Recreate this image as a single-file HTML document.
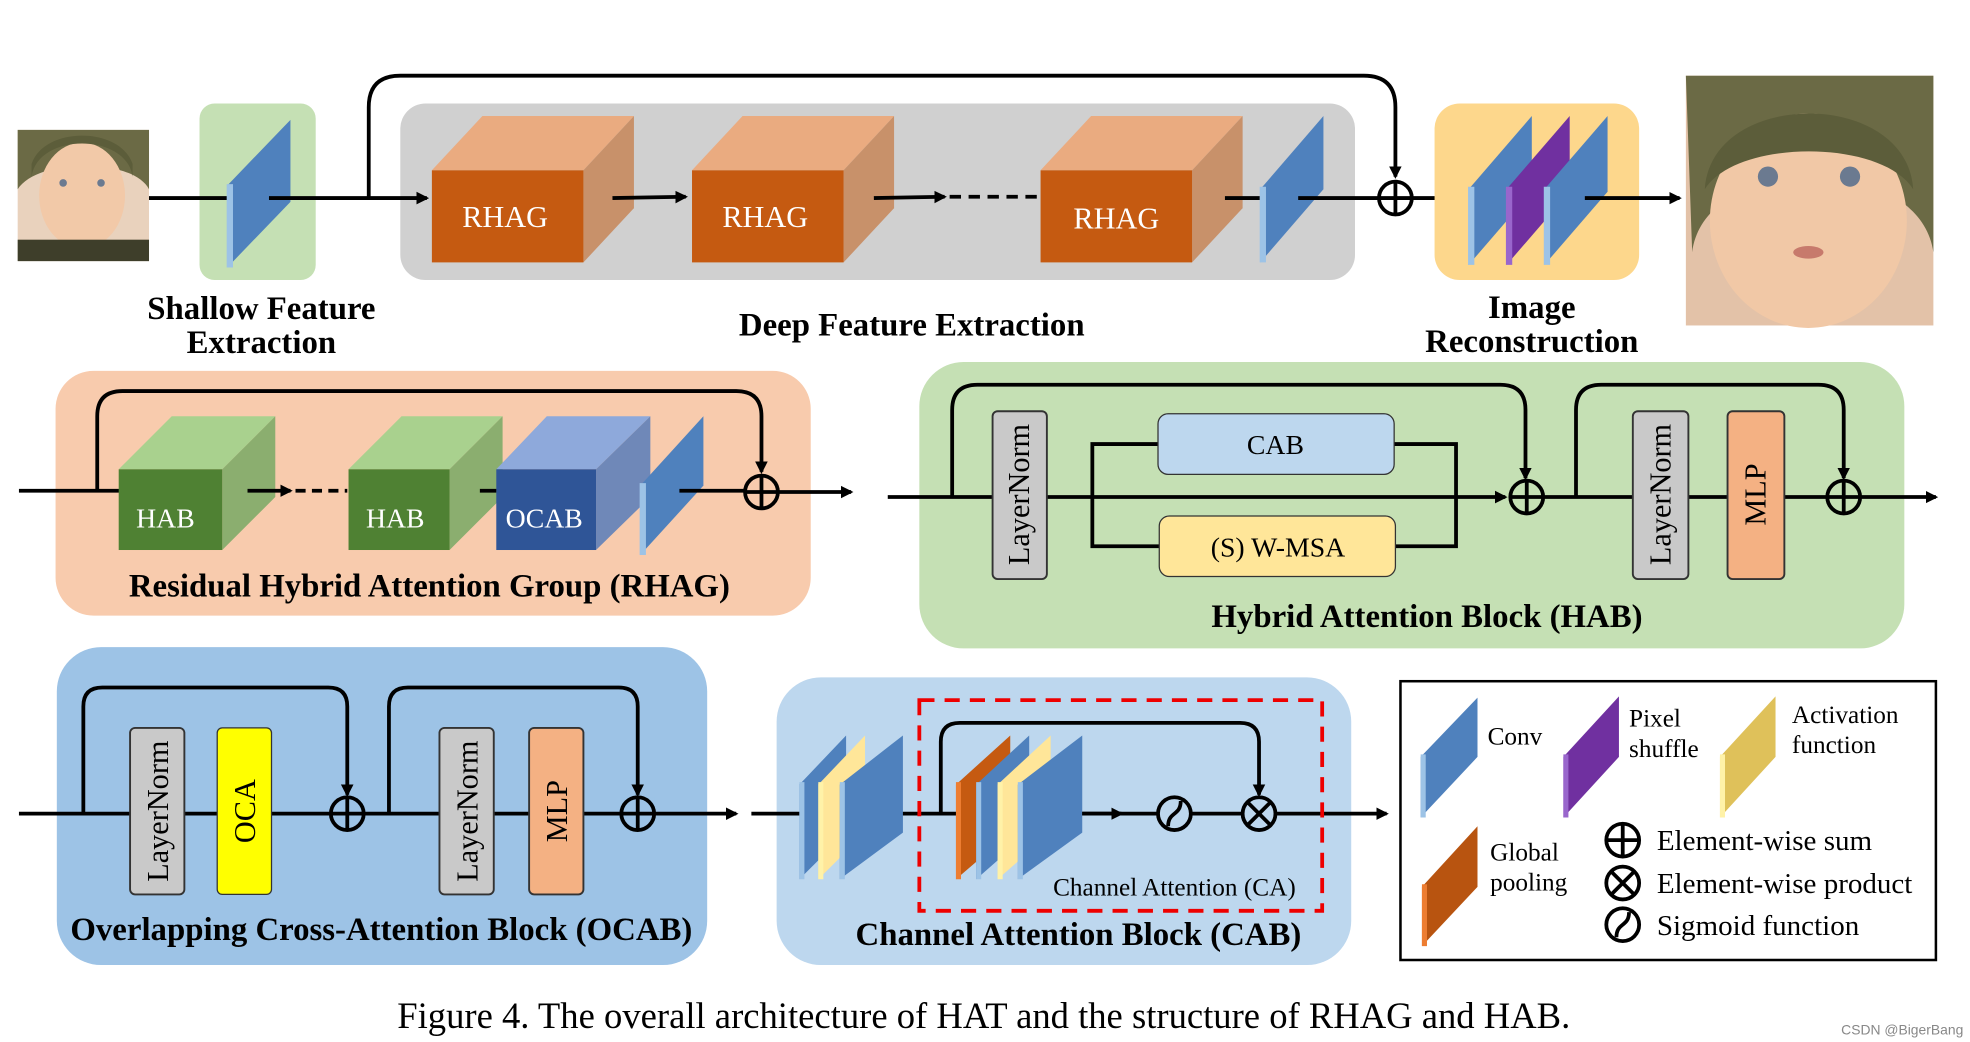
<!DOCTYPE html>
<html><head><meta charset="utf-8"><style>
html,body{margin:0;padding:0;background:#fff;width:1970px;height:1042px;overflow:hidden}
svg{display:block}
text{font-family:"Liberation Serif",serif}
.lb{font-size:26px;font-weight:bold;text-anchor:middle;fill:#000}
.w{fill:#fff;font-size:24px;text-anchor:middle}
.ln{stroke:#000;stroke-width:3;fill:none}
</style></head><body>
<svg width="1970" height="1042" viewBox="0 0 1560 826" preserveAspectRatio="none" xmlns="http://www.w3.org/2000/svg">
<defs>
<marker id="a" markerWidth="10" markerHeight="10" refX="8" refY="5" orient="auto" markerUnits="userSpaceOnUse"><path d="M0,0 L10,5 L0,10 z" fill="#000" transform="scale(1.4) translate(-3,-1.4)"/></marker>
<g id="plus"><circle r="13" fill="none" stroke="#000" stroke-width="3"/><line x1="-13" y1="0" x2="13" y2="0" stroke="#000" stroke-width="3"/><line x1="0" y1="-13" x2="0" y2="13" stroke="#000" stroke-width="3"/></g>
<g id="times"><circle r="13" fill="none" stroke="#000" stroke-width="3"/><line x1="-9" y1="-9" x2="9" y2="9" stroke="#000" stroke-width="3"/><line x1="-9" y1="9" x2="9" y2="-9" stroke="#000" stroke-width="3"/></g>
<g id="sig"><circle r="13" fill="none" stroke="#000" stroke-width="3"/><path d="M-5,10 C-5,-2 5,2 5,-10" stroke="#000" stroke-width="3" fill="none"/></g>
</defs>

<!-- small baby -->
<rect x="14" y="103" width="104" height="104" fill="#e9d2bd"/>
<path d="M14,103 H118 V150 C105,125 30,125 14,150 Z" fill="#6b6a45"/>
<ellipse cx="65" cy="155" rx="34" ry="42" fill="#f2c9a8"/>
<path d="M25,140 C30,105 100,105 105,140 L105,130 C95,100 35,100 25,130Z" fill="#5c5d3a"/>
<circle cx="50" cy="145" r="3" fill="#6b7a90"/><circle cx="80" cy="145" r="3" fill="#6b7a90"/>
<rect x="14" y="190" width="104" height="17" fill="#3e3e2a"/>

<!-- shallow -->
<rect x="158" y="82" width="92" height="140" rx="12" fill="#c5e0b4"/>
<line class="ln" x1="118" y1="157" x2="182" y2="157"/>
<polygon points="180,147 230,95 230,160 180,212" fill="#4f81bd"/><line x1="182" y1="146" x2="182" y2="212" stroke="#9dc3e6" stroke-width="5"/>

<!-- gray -->
<rect x="317" y="82" width="756" height="140" rx="20" fill="#d0d0d0"/>
<path class="ln" d="M292,157 V85 Q292,60 317,60 H1080 Q1105,60 1105,85 V140" marker-end="url(#a)"/>
<line class="ln" x1="213" y1="157" x2="338" y2="157" marker-end="url(#a)"/>
<g>
<polygon points="342,135 382,92 502,92 462,135" fill="#eaab80"/><polygon points="462,135 502,92 502,165 462,208" fill="#c8916a"/><rect x="342" y="135" width="120" height="73" fill="#c55a11"/><text class="w" x="400" y="180">RHAG</text>
<polygon points="548,135 588,92 708,92 668,135" fill="#eaab80"/><polygon points="668,135 708,92 708,165 668,208" fill="#c8916a"/><rect x="548" y="135" width="120" height="73" fill="#c55a11"/><text class="w" x="606" y="180">RHAG</text>
<polygon points="824,135 864,92 984,92 944,135" fill="#eaab80"/><polygon points="944,135 984,92 984,165 944,208" fill="#c8916a"/><rect x="824" y="135" width="120" height="73" fill="#c55a11"/><text class="w" x="884" y="181">RHAG</text>
</g>
<line class="ln" x1="485" y1="157" x2="543" y2="156" marker-end="url(#a)"/>
<line class="ln" x1="692" y1="157" x2="748" y2="156" marker-end="url(#a)"/>
<line class="ln" x1="752" y1="156" x2="822" y2="156" stroke-dasharray="9,6"/>
<line class="ln" x1="970" y1="157" x2="1000" y2="157"/>
<polygon points="998,150 1048,92 1048,150 998,208" fill="#4f81bd"/><line x1="1000" y1="148" x2="1000" y2="208" stroke="#9dc3e6" stroke-width="5"/>
<line class="ln" x1="1028" y1="157" x2="1092" y2="157"/>
<use href="#plus" x="1105" y="157"/>
<line class="ln" x1="1118" y1="157" x2="1160" y2="157" marker-end="url(#a)"/>

<!-- recon -->
<rect x="1136" y="82" width="162" height="140" rx="20" fill="#fdd78c"/>
<polygon points="1163,150 1213,92 1213,152 1163,210" fill="#4f81bd"/><line x1="1165" y1="148" x2="1165" y2="210" stroke="#9dc3e6" stroke-width="5"/>
<polygon points="1193,150 1243,92 1243,152 1193,210" fill="#7030a0"/><line x1="1195" y1="148" x2="1195" y2="210" stroke="#9966cc" stroke-width="5"/>
<polygon points="1223,150 1273,92 1273,152 1223,210" fill="#4f81bd"/><line x1="1225" y1="148" x2="1225" y2="210" stroke="#9dc3e6" stroke-width="5"/>
<line class="ln" x1="1255" y1="157" x2="1330" y2="157" marker-end="url(#a)"/>

<!-- big baby -->
<rect x="1335" y="60" width="196" height="198" fill="#e3c2a8"/>
<path d="M1335,60 H1531 V200 C1520,120 1350,120 1340,200 Z" fill="#6b6a45"/>
<ellipse cx="1432" cy="175" rx="78" ry="85" fill="#f1c8a6"/>
<path d="M1350,150 C1355,70 1510,70 1515,150 C1490,110 1375,110 1350,150Z" fill="#5c5d3a"/>
<circle cx="1400" cy="140" r="8" fill="#6b7a90"/><circle cx="1465" cy="140" r="8" fill="#6b7a90"/>
<ellipse cx="1432" cy="200" rx="12" ry="5" fill="#c77a6c"/>

<text class="lb" x="207" y="253">Shallow Feature</text>
<text class="lb" x="207" y="280">Extraction</text>
<text class="lb" x="722" y="266">Deep Feature Extraction</text>
<text class="lb" x="1213" y="252">Image</text>
<text class="lb" x="1213" y="279">Reconstruction</text>

<!-- RHAG row -->
<rect x="44" y="294" width="598" height="194" rx="30" fill="#f8cbad"/>
<line class="ln" x1="15" y1="389" x2="96" y2="389"/>
<path class="ln" d="M77,389 V330 Q77,310 97,310 H583 Q603,310 603,330 V374" marker-end="url(#a)"/>
<polygon points="94,372 136,330 218,330 176,372" fill="#a9d18e"/><polygon points="176,372 218,330 218,394 176,436" fill="#8bae6f"/><rect x="94" y="372" width="82" height="64" fill="#4f8133"/><text class="w" x="131" y="418" style="font-size:22px">HAB</text>
<polygon points="276,372 318,330 398,330 356,372" fill="#a9d18e"/><polygon points="356,372 398,330 398,394 356,436" fill="#8bae6f"/><rect x="276" y="372" width="80" height="64" fill="#4f8133"/><text class="w" x="313" y="418" style="font-size:22px">HAB</text>
<polygon points="393,372 433,330 515,330 472,372" fill="#8ea9db"/><polygon points="472,372 515,330 515,394 472,436" fill="#6f88b8"/><rect x="393" y="372" width="79" height="64" fill="#2f5597"/><text class="w" x="431" y="418" style="font-size:22px">OCAB</text>
<line class="ln" x1="196" y1="389" x2="230" y2="389" marker-end="url(#a)"/>
<line class="ln" x1="234" y1="389" x2="275" y2="389" stroke-dasharray="8,5"/>
<line class="ln" x1="380" y1="389" x2="393" y2="389"/>
<polygon points="507,385 557,330 557,385 507,440" fill="#4f81bd"/><line x1="509" y1="383" x2="509" y2="440" stroke="#9dc3e6" stroke-width="5"/>
<line class="ln" x1="538" y1="389" x2="590" y2="389"/>
<use href="#plus" x="603" y="390"/>
<line class="ln" x1="616" y1="390" x2="674" y2="390" marker-end="url(#a)"/>
<text class="lb" x="340" y="473">Residual Hybrid Attention Group (RHAG)</text>

<!-- HAB -->
<rect x="728" y="287" width="780" height="227" rx="35" fill="#c5e0b4"/>
<line class="ln" x1="703" y1="394" x2="1192" y2="394" marker-end="url(#a)"/>
<path class="ln" d="M754,394 V325 Q754,305 774,305 H1188 Q1208,305 1208,325 V379" marker-end="url(#a)"/>
<rect x="786" y="326" width="43" height="133" rx="4" fill="#c9c9c9" stroke="#333" stroke-width="1.5"/>
<text x="815" y="392" transform="rotate(-90 815 392)" style="font-size:24px;text-anchor:middle">LayerNorm</text>
<polyline class="ln" points="917,352 865,352 865,433 918,433"/>
<polyline class="ln" points="1104,352 1153,352 1153,433 1105,433"/>
<rect x="917" y="328" width="187" height="48" rx="8" fill="#bdd7ee" stroke="#333" stroke-width="1"/>
<text x="1010" y="360" style="font-size:22px;text-anchor:middle">CAB</text>
<rect x="918" y="409" width="187" height="48" rx="8" fill="#ffe699" stroke="#333" stroke-width="1"/>
<text x="1012" y="441" style="font-size:22px;text-anchor:middle">(S) W-MSA</text>
<use href="#plus" x="1209" y="394"/>
<line class="ln" x1="1222" y1="394" x2="1447" y2="394"/>
<path class="ln" d="M1248,394 V325 Q1248,305 1268,305 H1440 Q1460,305 1460,325 V379" marker-end="url(#a)"/>
<rect x="1293" y="326" width="44" height="133" rx="4" fill="#c9c9c9" stroke="#333" stroke-width="1.5"/>
<text x="1323" y="392" transform="rotate(-90 1323 392)" style="font-size:24px;text-anchor:middle">LayerNorm</text>
<rect x="1368" y="326" width="45" height="133" rx="4" fill="#f4b183" stroke="#333" stroke-width="1.5"/>
<text x="1398" y="392" transform="rotate(-90 1398 392)" style="font-size:24px;text-anchor:middle">MLP</text>
<use href="#plus" x="1460" y="394"/>
<line class="ln" x1="1473" y1="394" x2="1533" y2="394" marker-end="url(#a)"/>
<text class="lb" x="1130" y="497">Hybrid Attention Block (HAB)</text>

<!-- OCAB -->
<rect x="45" y="513" width="515" height="252" rx="35" fill="#9dc3e6"/>
<line class="ln" x1="15" y1="645" x2="583" y2="645" marker-end="url(#a)"/>
<path class="ln" d="M66,645 V560 Q66,545 81,545 H260 Q275,545 275,560 V630" marker-end="url(#a)"/>
<path class="ln" d="M308,645 V560 Q308,545 323,545 H490 Q505,545 505,560 V630" marker-end="url(#a)"/>
<rect x="103" y="577" width="43" height="132" rx="4" fill="#c9c9c9" stroke="#333" stroke-width="1.5"/>
<text x="133" y="643" transform="rotate(-90 133 643)" style="font-size:24px;text-anchor:middle">LayerNorm</text>
<rect x="172" y="577" width="43" height="132" rx="4" fill="#ffff00" stroke="#333" stroke-width="1"/>
<text x="202" y="643" transform="rotate(-90 202 643)" style="font-size:24px;text-anchor:middle">OCA</text>
<rect x="348" y="577" width="43" height="132" rx="4" fill="#c9c9c9" stroke="#333" stroke-width="1.5"/>
<text x="378" y="643" transform="rotate(-90 378 643)" style="font-size:24px;text-anchor:middle">LayerNorm</text>
<rect x="419" y="577" width="43" height="132" rx="4" fill="#f4b183" stroke="#333" stroke-width="1.5"/>
<text x="449" y="643" transform="rotate(-90 449 643)" style="font-size:24px;text-anchor:middle">MLP</text>
<rect x="262" y="632" width="26" height="26" fill="#9dc3e6"/><use href="#plus" x="275" y="645"/>
<rect x="492" y="632" width="26" height="26" fill="#9dc3e6"/><use href="#plus" x="505" y="645"/>
<text class="lb" x="302" y="745">Overlapping Cross-Attention Block (OCAB)</text>

<!-- CAB -->
<rect x="615" y="537" width="455" height="228" rx="35" fill="#bdd7ee"/>
<line class="ln" x1="595" y1="645" x2="1098" y2="645" marker-end="url(#a)"/>
<polygon points="633,622 670,583 670,660 633,697" fill="#4f81bd"/><line x1="635" y1="620" x2="635" y2="697" stroke="#9dc3e6" stroke-width="4"/>
<polygon points="648,622 685,583 685,660 648,697" fill="#ffe699"/><line x1="650" y1="620" x2="650" y2="697" stroke="#fff2a8" stroke-width="4"/>
<polygon points="665,622 715,583 715,660 665,697" fill="#4f81bd"/><line x1="667" y1="620" x2="667" y2="697" stroke="#9dc3e6" stroke-width="4"/>
<rect x="728" y="555" width="319" height="167" fill="none" stroke="#e00" stroke-width="3" stroke-dasharray="12,8"/>
<path class="ln" d="M745,645 V588 Q745,573 760,573 H982 Q997,573 997,588 V630" marker-end="url(#a)"/>
<polygon points="757,622 800,583 800,660 757,697" fill="#c55a11"/><line x1="759" y1="620" x2="759" y2="697" stroke="#ed7d31" stroke-width="4"/>
<polygon points="773,622 815,583 815,660 773,697" fill="#4f81bd"/><line x1="775" y1="620" x2="775" y2="697" stroke="#9dc3e6" stroke-width="4"/>
<polygon points="790,622 832,583 832,660 790,697" fill="#ffe699"/><line x1="792" y1="620" x2="792" y2="697" stroke="#fff2a8" stroke-width="4"/>
<polygon points="806,622 857,583 857,660 806,697" fill="#4f81bd"/><line x1="808" y1="620" x2="808" y2="697" stroke="#9dc3e6" stroke-width="4"/>
<line class="ln" x1="857" y1="645" x2="888" y2="645" marker-end="url(#a)"/>
<circle cx="930" cy="645" r="14" fill="#bdd7ee"/><use href="#sig" x="930" y="645"/>
<circle cx="997" cy="645" r="14" fill="#bdd7ee"/><use href="#times" x="997" y="645"/>
<text x="930" y="710" style="font-size:20px;text-anchor:middle">Channel Attention (CA)</text>
<text class="lb" x="854" y="749">Channel Attention Block (CAB)</text>

<!-- legend -->
<rect x="1109" y="540" width="424" height="221" fill="#fff" stroke="#000" stroke-width="2"/>
<polygon points="1125,600 1170,553 1170,600 1125,648" fill="#4f81bd"/><line x1="1127" y1="598" x2="1127" y2="648" stroke="#9dc3e6" stroke-width="4"/>
<text x="1178" y="590" style="font-size:20px">Conv</text>
<polygon points="1238,600 1282,552 1282,600 1238,648" fill="#7030a0"/><line x1="1240" y1="598" x2="1240" y2="648" stroke="#9966cc" stroke-width="4"/>
<text x="1290" y="576" style="font-size:20px">Pixel</text><text x="1290" y="600" style="font-size:20px">shuffle</text>
<polygon points="1362,600 1406,552 1406,600 1362,648" fill="#dfc15a"/><line x1="1364" y1="598" x2="1364" y2="648" stroke="#fff2a8" stroke-width="4"/>
<text x="1419" y="573" style="font-size:20px">Activation</text><text x="1419" y="597" style="font-size:20px">function</text>
<polygon points="1126,703 1170,655 1170,703 1126,750" fill="#b85410"/><line x1="1128" y1="701" x2="1128" y2="750" stroke="#ed7d31" stroke-width="4"/>
<text x="1180" y="682" style="font-size:20px">Global</text><text x="1180" y="706" style="font-size:20px">pooling</text>
<use href="#plus" x="1285" y="666"/><text x="1312" y="674" style="font-size:23px">Element-wise sum</text>
<use href="#times" x="1285" y="700"/><text x="1312" y="708" style="font-size:23px">Element-wise product</text>
<use href="#sig" x="1285" y="733"/><text x="1312" y="741" style="font-size:23px">Sigmoid function</text>

<text x="779" y="815" style="font-size:29px;text-anchor:middle">Figure 4. The overall architecture of HAT and the structure of RHAG and HAB.</text>
<text x="1458" y="820" style="font-size:11px;fill:#888;font-family:'Liberation Sans',sans-serif">CSDN @BigerBang</text>
</svg>
</body></html>
